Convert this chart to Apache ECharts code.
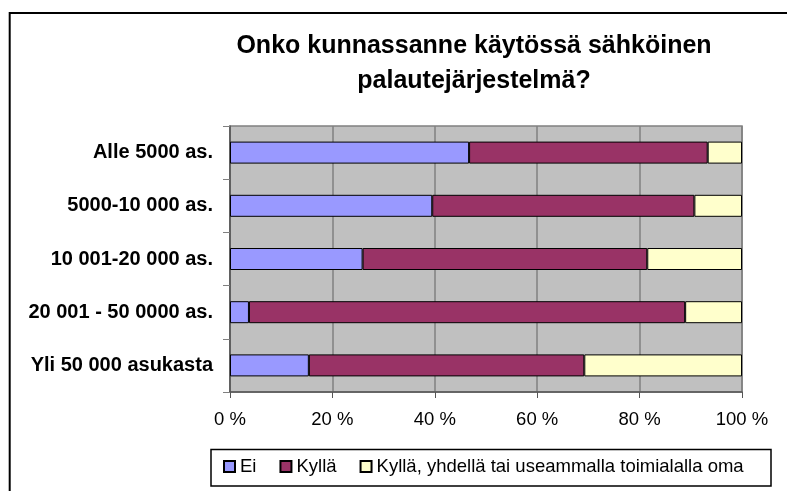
<!DOCTYPE html>
<html lang="fi">

<head>
    <meta charset="UTF-8">
    <title>Sähköinen palautejärjestelmä</title>
    <script src="https://cdn.jsdelivr.net/npm/echarts@6/dist/echarts.min.js"></script>
    <style>
        html, body { margin: 0; padding: 0; background: #fff; }
        #chart { width: 787px; height: 491px; }
    </style>
</head>

<body>
    <div id="chart"></div>

    <script>
        // kuntakokoluokat (ylhäältä alas)
        let categories = ['Alle 5000 as.', '5000-10 000 as.', '10 001-20 000 as.', '20 001 - 50 0000 as.', 'Yli 50 000 asukasta'];
        let seriesNames = ['Ei', 'Kyllä', 'Kyllä, yhdellä tai useammalla toimialalla oma'];
        // prosenttiosuudet
        let eiData = [46.7, 39.5, 25.9, 3.7, 15.4];
        let kyllaData = [46.6, 51.2, 55.6, 85.2, 53.8];
        let osittainData = [6.7, 9.3, 18.5, 11.1, 30.8];
        let xTicks = [0, 20, 40, 60, 80, 100];

        let font = '"Liberation Sans", Arial, sans-serif';
        let colors = ['#9999FF', '#993366', '#FFFFCC'];

        let myEchart = echarts.init(document.querySelector('#chart'), null, { renderer: 'canvas' });

        function barSeries(name, data, color) {
            return {
                name: name,
                type: 'bar',
                stack: 'total',
                barWidth: 22,
                data: data,
                itemStyle: {
                    color: color,
                    borderColor: '#000',
                    borderWidth: 1
                },
                emphasis: { disabled: true },
                animation: false
            };
        }

        let option = {
            animation: false,
            title: {
                text: 'Onko kunnassanne käytössä sähköinen\npalautejärjestelmä?',
                left: 474,
                top: 29,
                padding: 0,
                textAlign: 'center',
                textStyle: {
                    fontFamily: font,
                    fontWeight: 'bold',
                    fontSize: 25,
                    lineHeight: 35,
                    color: '#000'
                }
            },
            graphic: [
                // ulkoreunus (vain ylä- ja vasen reuna näkyy)
                { type: 'line', shape: { x1: 9, y1: 13, x2: 787, y2: 13 }, style: { stroke: '#000', lineWidth: 2 } },
                { type: 'line', shape: { x1: 9.7, y1: 12, x2: 9.7, y2: 491 }, style: { stroke: '#000', lineWidth: 2 } },
                // selitteen laatikko
                {
                    type: 'rect', z: -1,
                    shape: { x: 211, y: 449.5, width: 560, height: 36.5 },
                    style: { fill: '#fff', stroke: '#000', lineWidth: 1.5 }
                }
            ],
            legend: {
                left: 223,
                top: 457,
                padding: 0,
                itemWidth: 11,
                itemHeight: 11,
                itemGap: 23,
                icon: 'rect',
                data: seriesNames,
                textStyle: {
                    fontFamily: font,
                    fontSize: 18.5,
                    color: '#000'
                }
            },
            grid: {
                left: 230,
                top: 126,
                width: 512,
                height: 266,
                show: true,
                backgroundColor: '#C0C0C0',
                borderColor: '#808080',
                borderWidth: 1.5
            },
            xAxis: {
                type: 'value',
                min: xTicks[0],
                max: xTicks[xTicks.length - 1],
                interval: 20,
                axisLine: { show: true, lineStyle: { color: '#555', width: 1.5 } },
                axisTick: { show: true, length: 6, lineStyle: { color: '#555' } },
                splitLine: { show: true, lineStyle: { color: '#808080', width: 1.5 } },
                axisLabel: {
                    margin: 18,
                    fontFamily: font,
                    fontSize: 18.5,
                    color: '#000',
                    formatter: '{value} %'
                }
            },
            yAxis: {
                type: 'category',
                inverse: true,
                data: categories,
                axisLine: { show: true, lineStyle: { color: '#555', width: 1.5 } },
                axisTick: { show: true, length: 7, lineStyle: { color: '#808080' } },
                axisLabel: {
                    margin: 17,
                    fontFamily: font,
                    fontWeight: 'bold',
                    fontSize: 20,
                    color: '#000'
                }
            },
            series: [
                barSeries(seriesNames[0], eiData, colors[0]),
                barSeries(seriesNames[1], kyllaData, colors[1]),
                barSeries(seriesNames[2], osittainData, colors[2])
            ]
        };

        myEchart.setOption(option);
    </script>
</body>

</html>
